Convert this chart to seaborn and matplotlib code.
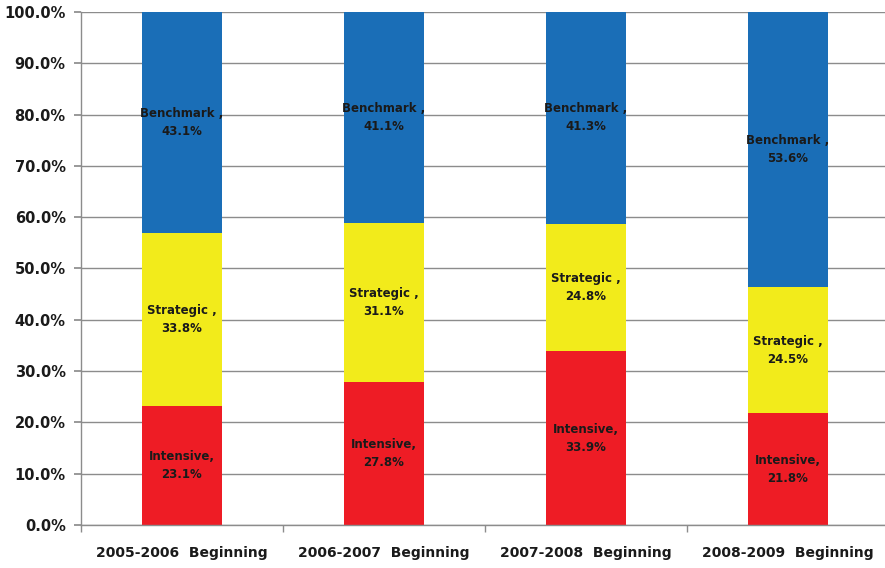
import matplotlib
matplotlib.use("Agg")
import matplotlib.pyplot as plt
import seaborn as sns
import numpy as np
import pandas as pd
from matplotlib.ticker import FixedLocator, FuncFormatter

categories = ["2005-2006  Beginning", "2006-2007  Beginning", "2007-2008  Beginning", "2008-2009  Beginning"]
intensive = [23.1, 27.8, 33.9, 21.8]
strategic = [33.8, 31.1, 24.8, 24.5]
benchmark = [43.1, 41.1, 41.3, 53.6]
series_names = ["Intensive,", "Strategic ,", "Benchmark ,"]
colors = ["#EE1C25", "#F2EB1B", "#1A6EB7"]

sns.set_theme(style="white")
plt.rcParams['font.family'] = ['DejaVu Sans']

fig = plt.figure(figsize=(8.85, 5.68), dpi=100)
ax = fig.add_axes([0.0915, 0.0757, 0.913, 0.9033])

series = [intensive, strategic, benchmark]
cum = np.cumsum(np.array(series), axis=0)
# draw from tallest cumulative to shortest
for i in range(2, -1, -1):
    d = pd.DataFrame({"cat": categories, "val": cum[i]})
    sns.barplot(data=d, x="cat", y="val", color=colors[i], width=0.4,
                saturation=1, ax=ax, zorder=2, linewidth=0, errorbar=None)

# labels
for i, vals in enumerate(series):
    for j, v in enumerate(vals):
        bottom = cum[i][j] - v
        mid = bottom + v / 2
        ax.text(j, mid, f"{series_names[i]}\n{v:.1f}%", ha="center", va="center",
                fontsize=8.5, fontweight="bold", color="#1a1a1a", linespacing=1.5, zorder=3)

ax.set_ylim(0, 100)
ax.set_xlim(-0.5, 3.5)
ax.set_yticks(np.arange(0, 101, 10))
ax.yaxis.set_major_formatter(FuncFormatter(lambda y, p: f"{y:.1f}%"))
ax.grid(axis="y", color="#8c8c8c", linewidth=1, zorder=0)
ax.grid(axis="x", visible=False)
ax.set_axisbelow(True)
for s in ["top", "right"]:
    ax.spines[s].set_visible(False)
for s in ["left", "bottom"]:
    ax.spines[s].set_color("#8c8c8c")
    ax.spines[s].set_linewidth(1)
ax.set_xlabel("")
ax.set_ylabel("")
ax.tick_params(axis="y", which="major", length=5, color="#8c8c8c", direction="out", left=True,
               labelsize=10.5, pad=6)
ax.tick_params(axis="x", which="major", length=0, labelsize=10, pad=15)
ax.xaxis.set_minor_locator(FixedLocator([-0.5, 0.5, 1.5, 2.5]))
ax.tick_params(axis="x", which="minor", length=5, color="#8c8c8c", direction="out", bottom=True)
for lbl in ax.get_yticklabels() + ax.get_xticklabels():
    lbl.set_fontweight("bold")
    lbl.set_color("#1a1a1a")

fig.savefig("out.png", dpi=100)
